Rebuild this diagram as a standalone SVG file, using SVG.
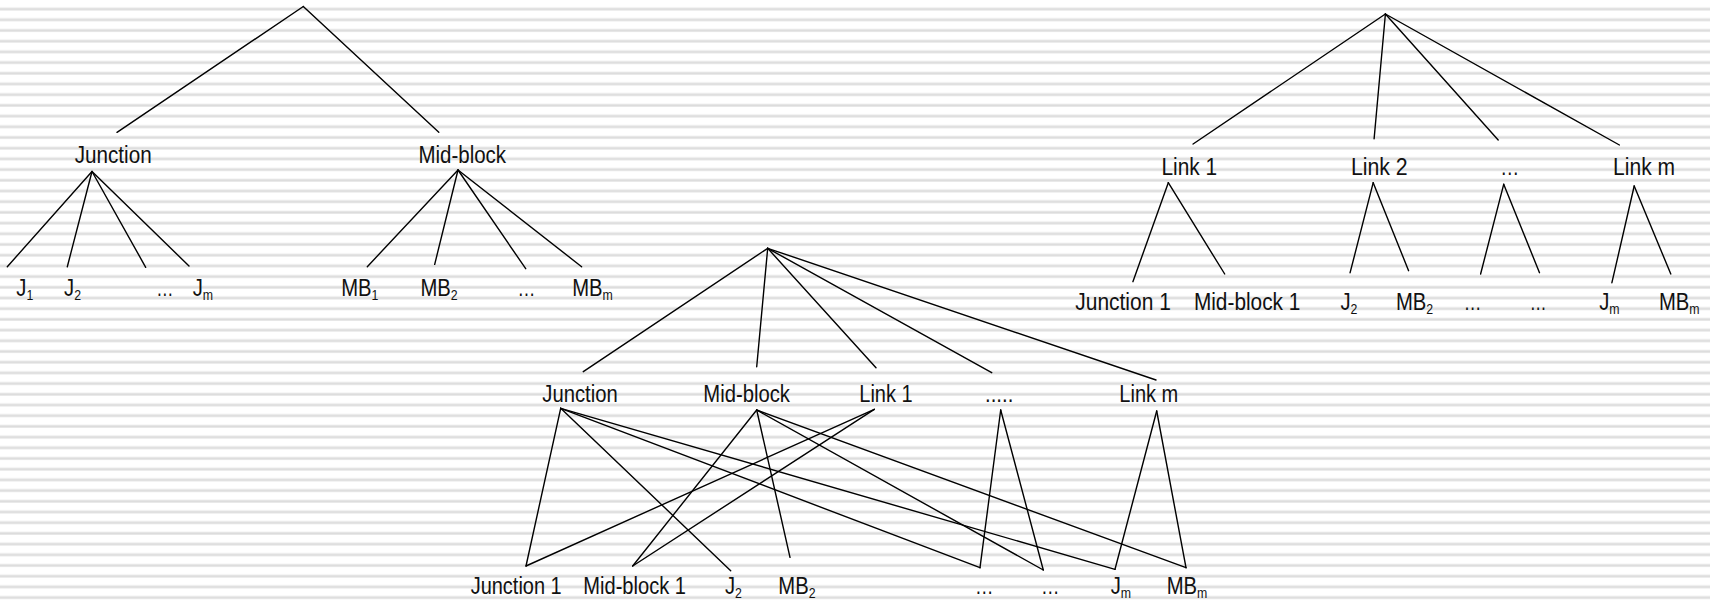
<svg xmlns="http://www.w3.org/2000/svg" width="1710" height="601" viewBox="0 0 1710 601">
  <defs>
    <!-- faint horizontal ruling behind the trees -->
    <pattern id="ruling" patternUnits="userSpaceOnUse" x="0" y="0" width="40" height="10.7">
      <rect x="0" y="0" width="40" height="10.7" fill="#ffffff"/>
      <rect x="0" y="7.4" width="40" height="3.4" fill="#ececec"/>
      <rect x="0" y="8.3" width="40" height="1.7" fill="#dcdcdc"/>
    </pattern>
    <style>
      .edge { stroke: #000; stroke-width: 1.4; fill: none; stroke-linecap: round; }
      .lbl { font-family: "Liberation Sans", Arial, sans-serif; font-size: 23px; fill: #111; }
      .sub { font-size: 14px; }
    </style>
  </defs>

  <rect x="0" y="0" width="1710" height="601" fill="url(#ruling)"/>

  <!-- connectors -->
  <g id="connectors" class="edge">
    <!-- left tree: junction / mid-block split -->
    <line x1="303.3" y1="6.5" x2="117" y2="132.3"/>
    <line x1="303.3" y1="6.5" x2="438.8" y2="132.3"/>
    <line x1="92" y1="171.5" x2="7.3" y2="266.7"/>
    <line x1="92" y1="171.5" x2="67.3" y2="266.7"/>
    <line x1="92" y1="171.5" x2="145.7" y2="267.3"/>
    <line x1="92" y1="171.5" x2="189" y2="266"/>
    <line x1="458" y1="170" x2="367.3" y2="266.7"/>
    <line x1="458" y1="170" x2="434.7" y2="264.3"/>
    <line x1="458" y1="170" x2="525.7" y2="268.7"/>
    <line x1="458" y1="170" x2="581.6" y2="266.7"/>

    <!-- right tree: per-link split -->
    <line x1="1385.4" y1="14" x2="1193.1" y2="144"/>
    <line x1="1385.4" y1="14" x2="1374.1" y2="138.7"/>
    <line x1="1385.4" y1="14" x2="1498.2" y2="140"/>
    <line x1="1385.4" y1="14" x2="1619.4" y2="145"/>
    <line x1="1168.3" y1="182.7" x2="1132.9" y2="281.7"/>
    <line x1="1168.3" y1="182.7" x2="1224.7" y2="274"/>
    <line x1="1373.2" y1="182.7" x2="1350.1" y2="272.7"/>
    <line x1="1373.2" y1="182.7" x2="1408.6" y2="270.7"/>
    <line x1="1503.7" y1="184.3" x2="1480.6" y2="274"/>
    <line x1="1503.7" y1="184.3" x2="1539.5" y2="272.7"/>
    <line x1="1634.2" y1="186" x2="1611.9" y2="282.7"/>
    <line x1="1634.2" y1="186" x2="1670.8" y2="274"/>

    <!-- lower tree: combined hierarchy -->
    <line x1="767.7" y1="248.3" x2="583.3" y2="371.7"/>
    <line x1="767.7" y1="248.3" x2="756.7" y2="366.7"/>
    <line x1="767.7" y1="248.3" x2="876" y2="367.7"/>
    <line x1="767.7" y1="248.3" x2="991.7" y2="372.7"/>
    <line x1="767.7" y1="248.3" x2="1156" y2="380"/>

    <line x1="560.7" y1="408.3" x2="526" y2="566"/>
    <line x1="560.7" y1="408.3" x2="730.7" y2="570.7"/>
    <line x1="560.7" y1="408.3" x2="980" y2="567.7"/>
    <line x1="560.7" y1="408.3" x2="1115" y2="569.3"/>

    <line x1="756.7" y1="410" x2="632.7" y2="566"/>
    <line x1="756.7" y1="410" x2="790" y2="557.3"/>
    <line x1="756.7" y1="410" x2="1043.3" y2="570"/>
    <line x1="756.7" y1="410" x2="1186" y2="567.7"/>

    <line x1="874.3" y1="409.3" x2="526" y2="566"/>
    <line x1="874.3" y1="409.3" x2="632.7" y2="566"/>

    <line x1="1000.7" y1="410" x2="980" y2="567.7"/>
    <line x1="1000.7" y1="410" x2="1043.3" y2="570"/>

    <line x1="1156.7" y1="411" x2="1115" y2="569.3"/>
    <line x1="1156.7" y1="411" x2="1186" y2="567.7"/>
  </g>

  <!-- left tree nodes -->
  <g id="L-junction"><text class="lbl" x="74.7" y="162.7" textLength="77" lengthAdjust="spacingAndGlyphs">Junction</text></g>
  <g id="L-midblock"><text class="lbl" x="418.4" y="162.7" textLength="87.7" lengthAdjust="spacingAndGlyphs">Mid-block</text></g>
  <g id="L-j1"><text class="lbl" transform="translate(16.3,296) scale(0.88,1)">J<tspan class="sub" dy="4">1</tspan></text></g>
  <g id="L-j2"><text class="lbl" transform="translate(64.1,296) scale(0.88,1)">J<tspan class="sub" dy="4">2</tspan></text></g>
  <g id="L-jdots"><text class="lbl" x="156.3" y="296" textLength="17.2" lengthAdjust="spacingAndGlyphs">…</text></g>
  <g id="L-jm"><text class="lbl" transform="translate(192.7,296) scale(0.88,1)">J<tspan class="sub" dy="4">m</tspan></text></g>
  <g id="L-mb1"><text class="lbl" transform="translate(341.2,296) scale(0.88,1)">MB<tspan class="sub" dy="4">1</tspan></text></g>
  <g id="L-mb2"><text class="lbl" transform="translate(420.4,296) scale(0.88,1)">MB<tspan class="sub" dy="4">2</tspan></text></g>
  <g id="L-mbdots"><text class="lbl" x="517.6" y="296" textLength="17.9" lengthAdjust="spacingAndGlyphs">…</text></g>
  <g id="L-mbm"><text class="lbl" transform="translate(572.2,296) scale(0.88,1)">MB<tspan class="sub" dy="4">m</tspan></text></g>

  <!-- right tree nodes -->
  <g id="R-link1"><text class="lbl" x="1161.5" y="175" textLength="55.6" lengthAdjust="spacingAndGlyphs">Link 1</text></g>
  <g id="R-link2"><text class="lbl" x="1350.9" y="175" textLength="56.8" lengthAdjust="spacingAndGlyphs">Link 2</text></g>
  <g id="R-linkdots"><text class="lbl" x="1500.3" y="175" textLength="19" lengthAdjust="spacingAndGlyphs">…</text></g>
  <g id="R-linkm"><text class="lbl" x="1613.1" y="175" textLength="61.9" lengthAdjust="spacingAndGlyphs">Link m</text></g>
  <g id="R-junction1"><text class="lbl" x="1075.3" y="310" textLength="95.5" lengthAdjust="spacingAndGlyphs">Junction 1</text></g>
  <g id="R-midblock1"><text class="lbl" x="1193.9" y="310" textLength="106.5" lengthAdjust="spacingAndGlyphs">Mid-block 1</text></g>
  <g id="R-j2"><text class="lbl" transform="translate(1340.4,310) scale(0.88,1)">J<tspan class="sub" dy="4">2</tspan></text></g>
  <g id="R-mb2"><text class="lbl" transform="translate(1396,310) scale(0.88,1)">MB<tspan class="sub" dy="4">2</tspan></text></g>
  <g id="R-dots1"><text class="lbl" x="1463.7" y="310" textLength="17.7" lengthAdjust="spacingAndGlyphs">…</text></g>
  <g id="R-dots2"><text class="lbl" x="1529.8" y="310" textLength="16.8" lengthAdjust="spacingAndGlyphs">…</text></g>
  <g id="R-jm"><text class="lbl" transform="translate(1599.2,310) scale(0.88,1)">J<tspan class="sub" dy="4">m</tspan></text></g>
  <g id="R-mbm"><text class="lbl" transform="translate(1659,310) scale(0.88,1)">MB<tspan class="sub" dy="4">m</tspan></text></g>

  <!-- lower tree nodes -->
  <g id="B-junction"><text class="lbl" x="542.3" y="401.7" textLength="75.4" lengthAdjust="spacingAndGlyphs">Junction</text></g>
  <g id="B-midblock"><text class="lbl" x="703.3" y="401.7" textLength="86.7" lengthAdjust="spacingAndGlyphs">Mid-block</text></g>
  <g id="B-link1"><text class="lbl" x="859.3" y="401.7" textLength="53.4" lengthAdjust="spacingAndGlyphs">Link 1</text></g>
  <g id="B-linkdots"><text class="lbl" x="985" y="401.7" textLength="28.3" lengthAdjust="spacingAndGlyphs">.....</text></g>
  <g id="B-linkm"><text class="lbl" x="1119.3" y="401.7" textLength="59" lengthAdjust="spacingAndGlyphs">Link m</text></g>
  <g id="B-junction1"><text class="lbl" x="470.7" y="594" textLength="91" lengthAdjust="spacingAndGlyphs">Junction 1</text></g>
  <g id="B-midblock1"><text class="lbl" x="583.3" y="594" textLength="102.7" lengthAdjust="spacingAndGlyphs">Mid-block 1</text></g>
  <g id="B-j2"><text class="lbl" transform="translate(725,594) scale(0.88,1)">J<tspan class="sub" dy="4">2</tspan></text></g>
  <g id="B-mb2"><text class="lbl" transform="translate(778.3,594) scale(0.88,1)">MB<tspan class="sub" dy="4">2</tspan></text></g>
  <g id="B-dots1"><text class="lbl" x="975" y="594" textLength="18.5" lengthAdjust="spacingAndGlyphs">…</text></g>
  <g id="B-dots2"><text class="lbl" x="1041" y="594" textLength="18.5" lengthAdjust="spacingAndGlyphs">…</text></g>
  <g id="B-jm"><text class="lbl" transform="translate(1110.7,594) scale(0.88,1)">J<tspan class="sub" dy="4">m</tspan></text></g>
  <g id="B-mbm"><text class="lbl" transform="translate(1166.7,594) scale(0.88,1)">MB<tspan class="sub" dy="4">m</tspan></text></g>
</svg>
